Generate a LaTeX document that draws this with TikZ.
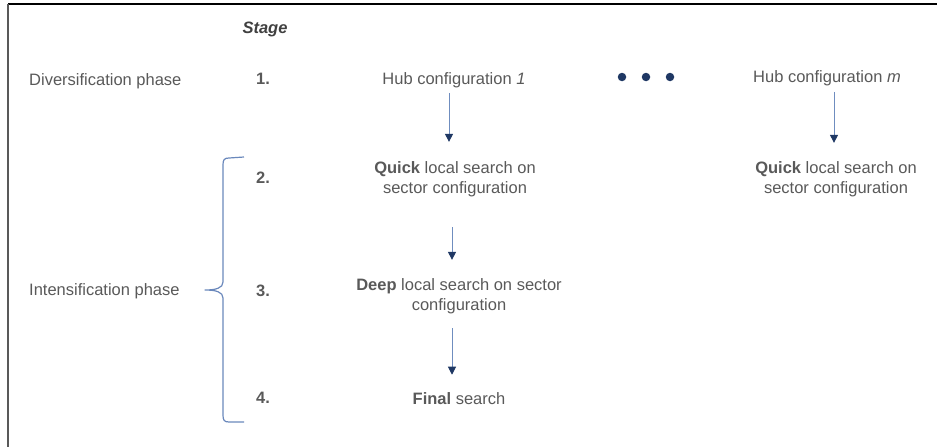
\documentclass[tikz,border=0pt]{standalone}
\usepackage{fontspec}
\setmainfont{Liberation Sans}
\usetikzlibrary{arrows.meta}
\definecolor{txt}{HTML}{595959}
\definecolor{navy}{HTML}{1F3864}
\definecolor{shaft}{HTML}{6F8DBF}
\definecolor{bracecol}{HTML}{6A88BC}
\tikzset{
  lbl/.style={inner sep=0pt, text=txt, font=\fontsize{16.5}{20.5}\selectfont, align=center},
  phase/.style={lbl, anchor=west},
  stagenum/.style={lbl, font=\fontsize{16.5}{20.5}\selectfont\bfseries},
  flow/.style={draw=shaft, line width=1pt,
    -{Triangle[width=8pt,length=8pt,color=navy]}},
  dot/.style={circle, fill=navy, inner sep=0pt, minimum size=8.5pt},
  bracket/.style={draw=bracecol, line width=1.2pt, line join=round}
}
\begin{document}
\begin{tikzpicture}[x=1pt, y=-1pt]
\useasboundingbox (0,0) rectangle (937,447);
% frame: top and left edges
\draw[black, line width=1.5pt] (8,4) -- (937,4);
\draw[txt, line width=2pt] (8,4) -- (8,447);

% header
\node[stagenum, font=\fontsize{16.5}{20.5}\selectfont\bfseries\itshape, text=black!75] (stage) at (265,29) {Stage};

% phases
\node[phase] (div) at (29,81) {Diversification phase};
\node[phase] (int) at (29,291) {Intensification phase};

% stage numbers
\node[stagenum] (s1) at (263,79) {1.};
\node[stagenum] (s2) at (263,178) {2.};
\node[stagenum] (s3) at (263,291) {3.};
\node[stagenum] (s4) at (263,398) {4.};

% column 1
\node[lbl] (hub1) at (454,80) {Hub configuration \textit{1}};
\node[lbl] (quick1) at (455,179) {\textbf{Quick} local search on\\sector configuration};
\node[lbl] (deep) at (459,296) {\textbf{Deep} local search on sector\\configuration};
\node[lbl] (final) at (459,399) {\textbf{Final} search};

% column m
\node[lbl] (hubm) at (827,78) {Hub configuration \textit{m}};
\node[lbl] (quickm) at (836,179) {\textbf{Quick} local search on\\sector configuration};

% ellipsis between the columns
\node[dot] (d1) at (622,77) {};
\node[dot] (d2) at (646,77) {};
\node[dot] (d3) at (670,77) {};

% flow arrows (shifts are in page orientation: positive yshift is upwards)
\draw[flow] ([xshift=-5pt,yshift=-5pt]hub1.south) -- ([xshift=-6pt,yshift=19pt]quick1.north);
\draw[flow] ([xshift=-3pt,yshift=-30pt]quick1.south) -- ([xshift=-7pt,yshift=18pt]deep.north);
\draw[flow] ([xshift=-7pt,yshift=-14pt]deep.south) -- ([xshift=-7pt,yshift=18pt]final.north);
\draw[flow] ([xshift=7pt,yshift=-6pt]hubm.south) -- ([xshift=-2pt,yshift=18pt]quickm.north);

% brace grouping stages 2 to 4
\draw[bracket] (244,157) -- (229,158) .. controls (224,158) and (223,160) .. (223,165)
  -- (223,282) .. controls (223,288) and (216,290) .. (205,290)
  .. controls (216,290) and (223,292) .. (223,298)
  -- (223,415) .. controls (223,420) and (224,422) .. (229,422) -- (244,422);
\end{tikzpicture}
\end{document}
